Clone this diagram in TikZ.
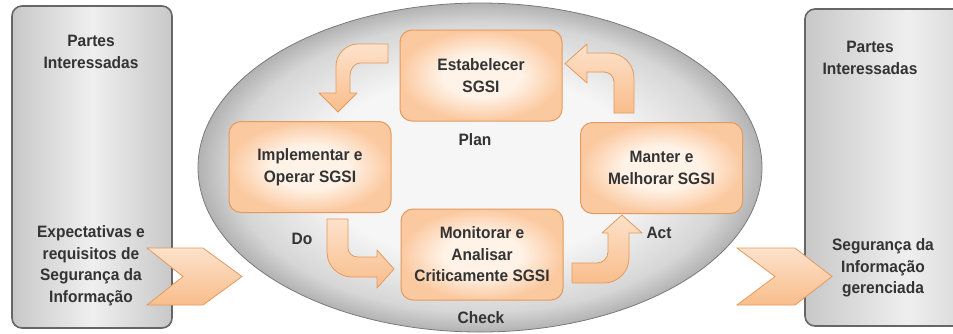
\documentclass[tikz,border=0pt]{standalone}
\usepackage{fontspec}
\setmainfont{Liberation Sans}[FakeStretch=0.94]
\usetikzlibrary{shapes.geometric}
\definecolor{txt}{HTML}{333333}
\definecolor{orbord}{HTML}{E39A5C}
\definecolor{orin}{HTML}{FFF2E6}
\definecolor{orout}{HTML}{FBC9A0}
\definecolor{arrtop}{HTML}{FDE2CB}
\definecolor{arrbot}{HTML}{F9BD8B}
\definecolor{grayline}{HTML}{666666}
\definecolor{gside}{HTML}{C8C8C8}
\definecolor{gmid}{HTML}{EFEFEF}
\definecolor{ellin}{HTML}{F6F6F6}
\definecolor{ellmid}{HTML}{D6D6D6}
\definecolor{ellout}{HTML}{B2B2B2}
\definecolor{ellline}{HTML}{7A7A7A}
\pgfdeclareradialshading{ellshade}{\pgfpoint{0bp}{0bp}}{color(0bp)=(ellin); color(14bp)=(ellin); color(22bp)=(ellmid); color(25bp)=(ellout); color(50bp)=(ellout)}
\pgfdeclareradialshading{orshade}{\pgfpoint{0bp}{0bp}}{color(0bp)=(orin); color(12bp)=(orin); color(25bp)=(orout); color(50bp)=(orout)}
\tikzset{
  txtfont/.style={font=\bfseries\fontsize{16.5}{21.5}\selectfont, text=txt},
  pbox/.style={txtfont, draw=orbord, line width=1pt, rounded corners=12pt, shade, shading=orshade,
    minimum width=162pt, minimum height=91pt, align=center, inner sep=0pt},
  lbl/.style={txtfont, align=center, inner sep=0pt},
  blockarrow/.style={draw=orbord, line width=0.8pt, top color=arrtop, bottom color=arrbot, line join=round},
  chevron/.style={draw=orbord, line width=0.8pt, top color=arrtop, bottom color=arrbot, line join=miter},
  gbox/.style={draw=grayline, line width=1.6pt, rounded corners=10pt, left color=gside, right color=gside, middle color=gmid, inner sep=0pt}
}
\begin{document}
\begin{tikzpicture}[x=1pt, y=-1pt]
\useasboundingbox (0,0) rectangle (953,333);
\clip (0,0) rectangle (953,333);
% side panels
\node[gbox, minimum width=160pt, minimum height=322pt] (leftpanel) at (92,167) {};
\path[gbox] (805,9) rectangle (1010,326);
\coordinate (rightpanel) at (880,167.5);
% central ellipse
\node[ellipse, draw=ellline, line width=0.8pt, shade, shading=ellshade, minimum width=564pt, minimum height=329pt, inner sep=0pt] (cycle) at (480,167.5) {};
% chevrons
\path[chevron] (147,248) -- (203,248) -- (242,276.5) -- (203,305) -- (147,305) -- (183,276.5) -- cycle;
\path[chevron] (737,248) -- (795,248) -- (832,276.5) -- (795,305) -- (737,305) -- (775,276.5) -- cycle;
% process boxes
\node[pbox] (plan) at (481,75.5) {Estabelecer\\SGSI};
\node[pbox] (do) at (310,167) {Implementar e\\Operar SGSI};
\node[pbox] (check) at (482,254.5) {Monitorar e\\Analisar\\Criticamente SGSI};
\node[pbox] (act) at (661.5,168) {Manter e\\Melhorar SGSI};
% curved block arrows
\path[blockarrow] (388,44) -- (358,44) .. controls (346,44) and (336,54) .. (336,66) -- (336,93) -- (319,93) -- (338,112) -- (357,93) -- (350,93) -- (350,75) .. controls (350,69.5) and (354.5,63) .. (360,63) -- (388,63) -- cycle;
\path[blockarrow] (614,113) -- (634,113) -- (634,78) .. controls (634,64.2) and (622.8,53) .. (609,53) -- (587,53) -- (587,44) -- (565,63.5) -- (587,83) -- (587,72) -- (604,72) .. controls (609.5,72) and (614,76.5) .. (614,82) -- cycle;
\path[blockarrow] (327,219) -- (348,219) -- (348,248) .. controls (348,253.5) and (352.5,257) .. (358,257) -- (377,257) -- (377,250) -- (394,269) -- (377,288) -- (377,277) -- (352,277) .. controls (338.2,277) and (327,265.8) .. (327,252) -- cycle;
\path[blockarrow] (572,263) -- (597,263) .. controls (603,263) and (608,258) .. (608,252) -- (608,233) -- (602,233) -- (622,215) -- (642,233) -- (629,233) -- (629,258) .. controls (629,271.8) and (617.8,283) .. (604,283) -- (572,283) -- cycle;
% phase labels
\node[lbl] (planlbl) at (475,140) {Plan};
\node[lbl] (dolbl) at (302,239) {Do};
\node[lbl] (checklbl) at (481,318) {Check};
\node[lbl] (actlbl) at (659,233) {Act};
% panel texts
\node[lbl] (lt) at (91,52) {Partes\\Interessadas};
\node[lbl] (lb) at (91,265.5) {Expectativas e\\requisitos de\\Segurança da\\Informação};
\node[lbl] (rt) at (870,58) {Partes\\Interessadas};
\node[lbl] (rb) at (883,268) {Segurança da\\Informação\\gerenciada};
\end{tikzpicture}
\end{document}
